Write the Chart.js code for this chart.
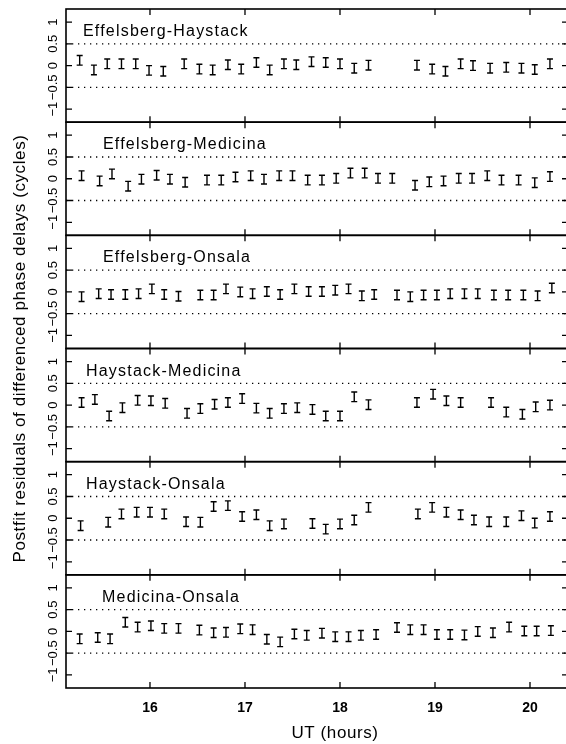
<!DOCTYPE html>
<html>
<head>
<meta charset="utf-8">
<script src="https://cdn.jsdelivr.net/npm/chart.js@4"></script>
<style>
  html, body { margin: 0; padding: 0; background: #fff; overflow: hidden; }
</style>
</head>
<body>
<canvas id="residChart" width="570" height="744"></canvas>
<script>
// baselines, top to bottom
const panelNames = ['Effelsberg-Haystack', 'Effelsberg-Medicina', 'Effelsberg-Onsala',
  'Haystack-Medicina', 'Haystack-Onsala', 'Medicina-Onsala'];

// UT hours and postfit residuals (cycles) read per baseline
const ehHours = [15.26, 15.41, 15.55, 15.70, 15.85, 15.99, 16.14, 16.36, 16.52, 16.66, 16.82, 16.96, 17.12, 17.26, 17.41, 17.54,
  17.70, 17.85, 18.00, 18.15, 18.30, 18.81, 18.97, 19.11, 19.27, 19.40, 19.58, 19.75, 19.91, 20.05, 20.21];
const ehResid = [0.12, -0.10, 0.04, 0.04, 0.04, -0.11, -0.13, 0.04, -0.08, -0.10, 0.02, -0.08, 0.07, -0.10, 0.04, 0.02,
  0.09, 0.07, 0.04, -0.06, 0.01, 0.01, -0.08, -0.13, 0.04, 0.00, -0.06, -0.04, -0.06, -0.09, 0.04];

const emHours = [15.28, 15.47, 15.60, 15.77, 15.91, 16.07, 16.21, 16.37, 16.60, 16.75, 16.90, 17.06, 17.20, 17.36, 17.50, 17.66,
  17.81, 17.96, 18.11, 18.26, 18.40, 18.55, 18.79, 18.94, 19.09, 19.25, 19.39, 19.55, 19.70, 19.88, 20.05, 20.21];
const emResid = [0.07, -0.05, 0.11, -0.17, -0.01, 0.08, -0.01, -0.08, -0.03, -0.03, 0.04, 0.07, -0.01, 0.07, 0.07, -0.03,
  -0.03, 0.01, 0.13, 0.13, 0.01, 0.01, -0.15, -0.07, -0.05, 0.01, 0.01, 0.07, -0.03, -0.03, -0.09, 0.05];

const eoHours = [15.28, 15.46, 15.59, 15.74, 15.88, 16.02, 16.15, 16.30, 16.53, 16.67, 16.80, 16.95, 17.08, 17.23, 17.37, 17.52,
  17.67, 17.81, 17.95, 18.09, 18.23, 18.36, 18.60, 18.74, 18.88, 19.02, 19.16, 19.31, 19.45, 19.62, 19.77, 19.93, 20.08, 20.23];
const eoResid = [-0.11, -0.04, -0.06, -0.06, -0.04, 0.07, -0.06, -0.10, -0.07, -0.07, 0.07, 0.00, -0.04, 0.01, -0.06, 0.07,
  0.01, 0.01, 0.04, 0.07, -0.09, -0.06, -0.07, -0.11, -0.07, -0.07, -0.04, -0.04, -0.04, -0.07, -0.07, -0.07, -0.09, 0.09];

const hmHours = [15.28, 15.42, 15.57, 15.71, 15.87, 16.01, 16.16, 16.39, 16.53, 16.68, 16.82, 16.97, 17.12, 17.26, 17.41, 17.55,
  17.71, 17.85, 18.00, 18.15, 18.30, 18.81, 18.98, 19.12, 19.27, 19.59, 19.75, 19.92, 20.06, 20.21];
const hmResid = [0.06, 0.13, -0.25, -0.06, 0.11, 0.10, 0.04, -0.19, -0.08, 0.02, 0.06, 0.15, -0.07, -0.19, -0.08, -0.06,
  -0.10, -0.25, -0.25, 0.19, 0.01, 0.06, 0.25, 0.10, 0.06, 0.06, -0.16, -0.21, -0.04, 0.00];

const hoHours = [15.27, 15.56, 15.70, 15.86, 16.00, 16.15, 16.38, 16.53, 16.67, 16.82, 16.97, 17.12, 17.26, 17.41, 17.71, 17.85,
  18.00, 18.15, 18.30, 18.82, 18.97, 19.12, 19.27, 19.41, 19.57, 19.75, 19.91, 20.05, 20.21];
const hoResid = [-0.17, -0.09, 0.10, 0.14, 0.14, 0.10, -0.08, -0.09, 0.27, 0.29, 0.04, 0.08, -0.17, -0.13, -0.12, -0.25,
  -0.13, -0.04, 0.25, 0.10, 0.25, 0.14, 0.08, -0.04, -0.08, -0.08, 0.06, -0.11, 0.04];

const moHours = [15.26, 15.45, 15.58, 15.74, 15.87, 16.01, 16.15, 16.30, 16.52, 16.67, 16.80, 16.95, 17.08, 17.23, 17.37, 17.52,
  17.65, 17.81, 17.95, 18.09, 18.22, 18.38, 18.60, 18.74, 18.88, 19.02, 19.16, 19.31, 19.45, 19.61, 19.78, 19.94, 20.07, 20.22];
const moResid = [-0.17, -0.14, -0.17, 0.21, 0.10, 0.13, 0.07, 0.07, 0.03, -0.03, -0.02, 0.06, 0.04, -0.18, -0.24, -0.06,
  -0.09, -0.04, -0.12, -0.12, -0.09, -0.07, 0.09, 0.04, 0.04, -0.07, -0.07, -0.08, 0.00, -0.03, 0.10, 0.01, 0.01, 0.02];

const residErr = 0.11;         // half length of each error bar (cycles)
const hourTicks = [16, 17, 18, 19, 20];
const residTicks = [-1, -0.5, 0, 0.5, 1];
const dottedAt = [-0.5, 0.5];

const panelHours = [ehHours, emHours, eoHours, hmHours, hoHours, moHours];
const panelResid = [ehResid, emResid, eoResid, hmResid, hoResid, moResid];

// where each baseline name sits inside its panel
const labelX = [83, 103, 103, 86, 86, 102];

const FONT = '"Liberation Sans", Arial, Helvetica, sans-serif';

function fmtTick(v) {
  return String(v).replace('-', '\u2212');
}

const framePlugin = {
  id: 'framePlugin',
  afterDatasetsDraw(chart) {
    const ctx = chart.ctx;
    const xs = chart.scales.x;
    const area = chart.chartArea;
    ctx.save();
    ctx.strokeStyle = '#000';
    ctx.fillStyle = '#000';

    panelNames.forEach((name, i) => {
      const ys = chart.scales['p' + i];
      const top = ys.top, bottom = ys.bottom;

      // dotted lines at +-0.5
      ctx.lineWidth = 1.3;
      ctx.setLineDash([1.3, 4.7]);
      dottedAt.forEach(v => {
        const py = ys.getPixelForValue(v);
        ctx.beginPath();
        ctx.moveTo(area.left, py);
        ctx.lineTo(area.right, py);
        ctx.stroke();
      });
      ctx.setLineDash([]);

      // frame
      ctx.lineWidth = 1.6;
      ctx.strokeRect(area.left, top, area.right - area.left, bottom - top);

      // inward ticks
      ctx.lineWidth = 1.3;
      ctx.beginPath();
      residTicks.forEach(v => {
        const py = ys.getPixelForValue(v);
        ctx.moveTo(area.left, py); ctx.lineTo(area.left + 6, py);
        ctx.moveTo(area.right, py); ctx.lineTo(area.right - 6, py);
      });
      hourTicks.forEach(h => {
        const px = xs.getPixelForValue(h);
        ctx.moveTo(px, top); ctx.lineTo(px, top + 6);
        ctx.moveTo(px, bottom); ctx.lineTo(px, bottom - 6);
      });
      ctx.stroke();

      // rotated tick labels
      ctx.font = '13px ' + FONT;
      ctx.textAlign = 'center';
      ctx.textBaseline = 'middle';
      residTicks.forEach(v => {
        ctx.save();
        ctx.translate(53, ys.getPixelForValue(v));
        ctx.rotate(-Math.PI / 2);
        ctx.fillText(fmtTick(v), 0, 0);
        ctx.restore();
      });

      // baseline name
      ctx.font = '16px ' + FONT;
      ctx.letterSpacing = '1.2px';
      ctx.textAlign = 'left';
      ctx.textBaseline = 'alphabetic';
      ctx.fillText(name, labelX[i], top + 27);
      ctx.letterSpacing = '0px';

      // error bars
      ctx.lineWidth = 1.4;
      const meta = chart.getDatasetMeta(i);
      meta.data.forEach((pt, j) => {
        const px = xs.getPixelForValue(panelHours[i][j]);
        const hi = ys.getPixelForValue(panelResid[i][j] + residErr);
        const lo = ys.getPixelForValue(panelResid[i][j] - residErr);
        ctx.beginPath();
        ctx.moveTo(px, hi); ctx.lineTo(px, lo);
        ctx.moveTo(px - 3, hi); ctx.lineTo(px + 3, hi);
        ctx.moveTo(px - 3, lo); ctx.lineTo(px + 3, lo);
        ctx.stroke();
      });
    });

    // axis titles
    ctx.font = '17px ' + FONT;
    ctx.letterSpacing = '0.6px';
    ctx.textAlign = 'center';
    ctx.textBaseline = 'middle';
    ctx.fillText('UT (hours)', 335, 733);
    ctx.save();
    ctx.translate(20, (area.top + area.bottom) / 2);
    ctx.rotate(-Math.PI / 2);
    ctx.fillText('Postfit residuals of differenced phase delays (cycles)', 0, 0);
    ctx.restore();
    ctx.restore();
  }
};

const datasets = panelNames.map((name, i) => ({
  label: name,
  data: panelHours[i].map((h, j) => ({ x: h, y: panelResid[i][j] })),
  yAxisID: 'p' + i,
  pointRadius: 0,
  showLine: false
}));

const scales = {
  x: {
    type: 'linear',
    position: 'bottom',
    min: 15.116,
    max: 20.4,
    grid: { display: false },
    border: { display: false },
    afterBuildTicks: s => { s.ticks = hourTicks.map(v => ({ value: v })); },
    afterFit: s => { s.height = 56; },
    ticks: {
      color: '#000',
      padding: 4,
      font: { family: FONT, size: 14, weight: 'bold' }
    }
  }
};
// stacked axes: the last one defined ends up on top
for (let i = panelNames.length - 1; i >= 0; i--) {
  scales['p' + i] = {
    type: 'linear',
    position: 'left',
    stack: 'panels',
    stackWeight: 1,
    min: -1.3,
    max: 1.3,
    grid: { display: false },
    border: { display: false },
    ticks: { display: false },
    afterBuildTicks: s => { s.ticks = residTicks.map(v => ({ value: v })); },
    afterFit: s => { s.width = 66; }
  };
}

new Chart(document.getElementById('residChart'), {
  type: 'scatter',
  data: { datasets: datasets },
  options: {
    responsive: false,
    animation: false,
    layout: { padding: { top: 9, right: 2, left: 0, bottom: 0 } },
    plugins: {
      legend: { display: false },
      tooltip: { enabled: false }
    },
    scales: scales
  },
  plugins: [framePlugin]
});
</script>
</body>
</html>
